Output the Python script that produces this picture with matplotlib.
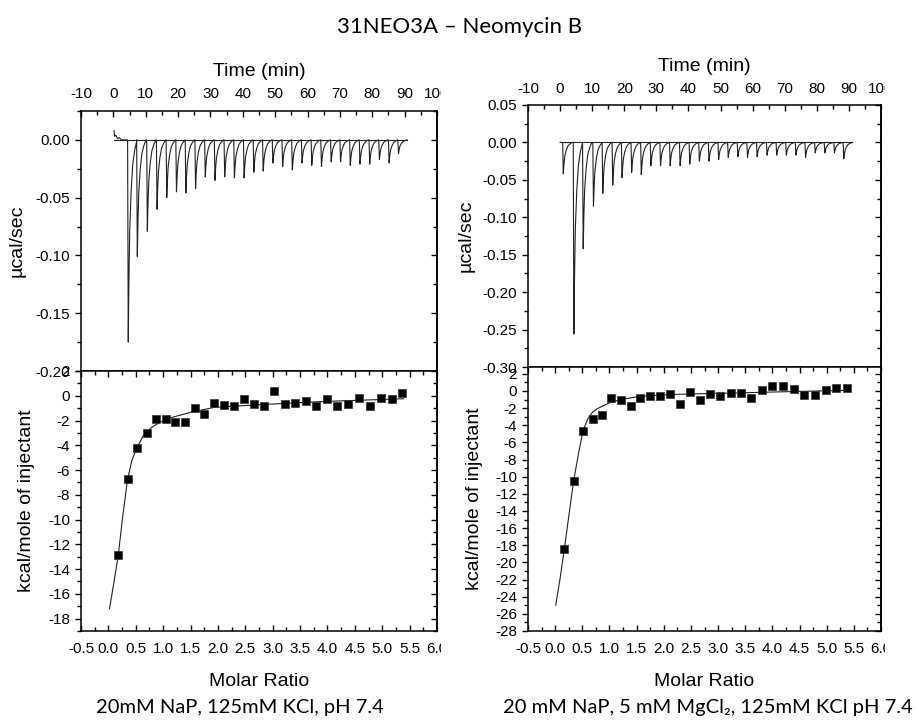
import numpy as np
import matplotlib.pyplot as plt
from matplotlib.ticker import MultipleLocator, FormatStrFormatter
from matplotlib.transforms import Bbox, ScaledTranslation

plt.rcParams['font.family'] = ['Liberation Sans', 'DejaVu Sans']
plt.rcParams['axes.unicode_minus'] = False

# 1. 그림에서 읽은 값
title = '31NEO3A – Neomycin B'
captions = ['20mM NaP, 125mM KCl, pH 7.4',
            '20 mM NaP, 5 mM MgCl₂, 125mM KCl pH 7.4']

# 열량 곡선 (주입 시간 min, 피크 최저값 ucal/sec)
inj_t_a = [4.6, 7.4, 10.5, 13.5, 16.5, 19.5, 22.4, 25.4, 28.4, 31.4, 34.4, 37.4, 40.4, 43.4, 46.3,
           49.3, 52.3, 55.3, 58.3, 61.3, 64.3, 67.3, 70.2, 73.2, 76.2, 79.2, 82.2, 85.2, 88.1]
inj_p_a = [-0.175, -0.101, -0.079, -0.060, -0.050, -0.045, -0.046, -0.042, -0.032, -0.035,
           -0.032, -0.033, -0.033, -0.028, -0.027, -0.020, -0.023, -0.026, -0.020, -0.022,
           -0.023, -0.019, -0.019, -0.022, -0.021, -0.021, -0.017, -0.020, -0.012]
lead_t_a = [0.2, 0.4, 0.8, 1.3, 1.8, 2.5]
lead_v_a = [0.008, 0.003, 0.004, 0.001, 0.002, 0.0]
end_t_a = 90.8

inj_t_b = [1.0, 4.3, 7.2, 10.4, 13.3, 16.4, 19.3, 22.3, 25.3, 28.3, 31.3, 34.3, 37.4, 40.4, 43.4,
           46.4, 49.4, 52.4, 55.4, 58.4, 61.4, 64.5, 67.5, 70.5, 73.5, 76.5, 79.5, 82.5, 85.5, 88.4]
inj_p_b = [-0.042, -0.256, -0.142, -0.085, -0.068, -0.057, -0.047, -0.040, -0.043, -0.031,
           -0.031, -0.031, -0.031, -0.029, -0.025, -0.025, -0.023, -0.020, -0.019, -0.020,
           -0.019, -0.017, -0.017, -0.017, -0.017, -0.020, -0.014, -0.014, -0.014, -0.022]
lead_t_b = [0.0, 0.5]
lead_v_b = [0.0, 0.0]
end_t_b = 91.1

# 피크 모양 (피크 기준 시간차, 피크 대비 비율)
shape_dt = [-0.2, 0.0, 0.2, 0.45, 0.9, 1.4, 2.0, 2.7]
shape_f = [0.0, 1.0, 0.7, 0.45, 0.25, 0.12, 0.05, 0.0]

# 적분 열량 (molar ratio, kcal/mole)
mr_a = [0.18, 0.35, 0.52, 0.70, 0.87, 1.05, 1.22, 1.40, 1.58, 1.75, 1.93, 2.12, 2.29, 2.48, 2.66,
        2.84, 3.03, 3.23, 3.41, 3.60, 3.79, 3.99, 4.18, 4.38, 4.58, 4.78, 4.98, 5.17, 5.37]
heat_a = [-12.9, -6.75, -4.2, -3.0, -1.9, -1.85, -2.1, -2.1, -0.95, -1.45, -0.6, -0.75, -0.8, -0.3,
          -0.65, -0.8, 0.4, -0.7, -0.6, -0.45, -0.8, -0.3, -0.85, -0.65, -0.2, -0.8, -0.2, -0.25, 0.2]
fit_mr_a = [0.02, 0.10, 0.18, 0.26, 0.35, 0.43, 0.52, 0.64, 0.79, 0.94, 1.12, 1.49, 1.93, 2.71, 3.93, 5.39]
fit_heat_a = [-17.2, -15.1, -12.9, -9.8, -6.75, -5.2, -4.2, -3.2, -2.55, -2.15, -1.8, -1.35, -0.94,
              -0.73, -0.46, -0.24]

mr_b = [0.17, 0.34, 0.51, 0.69, 0.86, 1.03, 1.21, 1.39, 1.57, 1.75, 1.93, 2.12, 2.30, 2.48, 2.67,
        2.85, 3.04, 3.23, 3.42, 3.61, 3.80, 4.00, 4.20, 4.39, 4.59, 4.78, 4.98, 5.18, 5.38]
heat_b = [-18.4, -10.5, -4.7, -3.3, -2.8, -0.8, -1.0, -1.7, -0.8, -0.6, -0.6, -0.3, -1.5, -0.1, -1.0,
          -0.4, -0.55, -0.25, -0.2, -0.8, 0.15, 0.6, 0.6, 0.25, -0.5, -0.5, 0.15, 0.4, 0.4]
fit_mr_b = [0.01, 0.09, 0.17, 0.26, 0.34, 0.43, 0.51, 0.60, 0.69, 0.78, 0.86, 1.03, 1.21, 1.56, 2.17,
            2.8, 3.4, 4.0, 4.7, 5.38]
fit_heat_b = [-25.0, -21.9, -18.4, -14.2, -10.5, -7.3, -4.7, -3.25, -2.45, -2.05, -1.8, -1.3, -1.0,
              -0.62, -0.4, -0.3, -0.22, -0.12, -0.02, 0.08]

time_ticks = [-10, 0, 10, 20, 30, 40, 50, 60, 70, 80, 90]
mr_ticks = [-0.5, 0.0, 0.5, 1.0, 1.5, 2.0, 2.5, 3.0, 3.5, 4.0, 4.5, 5.0, 5.5]


# 2. 곡선 꼭짓점 만들기
def trace(lead_t, lead_v, inj_t, inj_p, end_t):
    tt = list(lead_t)
    vv = list(lead_v)
    for t, p in zip(inj_t, inj_p):
        for dt, f in zip(shape_dt, shape_f):
            tt.append(t + dt)
            vv.append(p * f)
    tt.append(end_t)
    vv.append(0.0)
    return tt, vv


# 3. 그림
W, H = 920, 722
fig = plt.figure(figsize=(W / 100, H / 100), dpi=100)


def box(l, t, r, b):
    return fig.add_axes([l / W, 1 - b / H, (r - l) / W, (b - t) / H])


def cut_label(ax, x, text, top, pad):
    sign = 1 if top else -1
    off = ScaledTranslation(0, sign * pad / 72, fig.dpi_scale_trans)
    t = ax.text(x, 1 if top else 0, text, transform=ax.get_xaxis_transform() + off,
                ha='center', va='bottom' if top else 'top', fontsize=11)
    x1 = ax.get_position().x1 * W + 4
    t.set_clip_on(True)
    t.set_clip_box(Bbox.from_extents(0, 0, x1, H))


def style(ax, ymaj, ymin, yfmt):
    for s in ax.spines.values():
        s.set_linewidth(1.1)
    ax.yaxis.set_major_locator(MultipleLocator(ymaj))
    ax.yaxis.set_minor_locator(MultipleLocator(ymin))
    ax.yaxis.set_major_formatter(FormatStrFormatter(yfmt))
    ax.tick_params(axis='y', which='both', direction='out', left=True, right=False,
                   labelsize=11, width=1.0)
    ax.tick_params(axis='y', which='major', length=4.5)
    ax.tick_params(axis='y', which='minor', length=3)
    sec = ax.secondary_yaxis('right')
    sec.yaxis.set_major_locator(MultipleLocator(ymaj))
    sec.yaxis.set_minor_locator(MultipleLocator(ymin))
    sec.tick_params(axis='y', which='both', direction='in', labelright=False, width=1.0)
    sec.tick_params(axis='y', which='major', length=4.5)
    sec.tick_params(axis='y', which='minor', length=3)
    sec.spines['right'].set_linewidth(1.1)


def top_panel(ax, tt, vv, t0, t1, ylim, lpad):
    ax.plot(tt, vv, color='#222222', lw=0.8)
    ax.plot([t0, t1], [0, 0], color='#222222', lw=0.8)
    ax.set_xlim(-10, 100)
    ax.set_ylim(*ylim)
    style(ax, 0.05, 0.025, '%.2f')
    ax.set_xticks(time_ticks)
    ax.xaxis.set_minor_locator(MultipleLocator(5))
    ax.tick_params(axis='x', which='both', direction='in', top=True, bottom=False,
                   labeltop=True, labelbottom=False, labelsize=11, pad=lpad, width=1.0)
    ax.tick_params(axis='x', which='major', length=4.5)
    ax.tick_params(axis='x', which='minor', length=3)
    cut_label(ax, 100, '100', True, lpad)
    ax.set_xlabel('Time (min)', fontsize=14, labelpad=8)
    ax.xaxis.set_label_position('top')
    ax.set_ylabel('µcal/sec', fontsize=14)


def bottom_panel(ax, mr, heat, fmr, fheat, ylim):
    ax.plot(fmr, fheat, color='#222222', lw=0.8)
    ax.plot(mr, heat, 's', color='black', ms=6.3, mec='#333333', mew=0.5)
    ax.set_xlim(-0.5, 6.0)
    ax.set_ylim(*ylim)
    style(ax, 2, 1, '%d')
    ax.set_xticks(mr_ticks)
    ax.xaxis.set_major_formatter(FormatStrFormatter('%.1f'))
    ax.xaxis.set_minor_locator(MultipleLocator(0.25))
    ax.tick_params(axis='x', which='both', direction='in', top=True, bottom=True,
                   labeltop=False, labelbottom=True, labelsize=11, pad=8, width=1.0)
    ax.tick_params(axis='x', which='major', length=4.5)
    ax.tick_params(axis='x', which='minor', length=3)
    cut_label(ax, 6.0, '6.0', False, 8)
    ax.set_xlabel('Molar Ratio', fontsize=14, labelpad=12)
    ax.set_ylabel('kcal/mole of injectant', fontsize=14)


ax1 = box(81, 111, 437, 371)
tt, vv = trace(lead_t_a, lead_v_a, inj_t_a, inj_p_a, end_t_a)
top_panel(ax1, tt, vv, lead_t_a[0], end_t_a, (-0.2, 0.025), 7)
ax1.yaxis.set_label_coords(-0.155, 0.5)

ax2 = box(81, 371, 437, 631)
bottom_panel(ax2, mr_a, heat_a, fit_mr_a, fit_heat_a, (-19, 2))
ax2.yaxis.set_label_coords(-0.13, 0.5)

ax3 = box(528, 105, 881, 367)
tt, vv = trace(lead_t_b, lead_v_b, inj_t_b, inj_p_b, end_t_b)
top_panel(ax3, tt, vv, lead_t_b[0], end_t_b, (-0.30, 0.05), 6.5)
ax3.yaxis.set_label_coords(-0.15, 0.5)

ax4 = box(528, 367, 881, 631)
bottom_panel(ax4, mr_b, heat_b, fit_mr_b, fit_heat_b, (-28, 2.8))
ax4.yaxis.set_label_coords(-0.127, 0.5)

fig.text(0.5, 1 - 27 / H, title, ha='center', va='center', fontsize=16,
         family=['Lato', 'DejaVu Sans'])
fig.text(240 / W, 1 - 708 / H, captions[0], ha='center', va='center', fontsize=14.5,
         family=['Lato', 'DejaVu Sans'])
fig.text(708 / W, 1 - 708 / H, captions[1], ha='center', va='center', fontsize=14.5,
         family=['Lato', 'DejaVu Sans'])

fig.savefig('out.png', dpi=100)
